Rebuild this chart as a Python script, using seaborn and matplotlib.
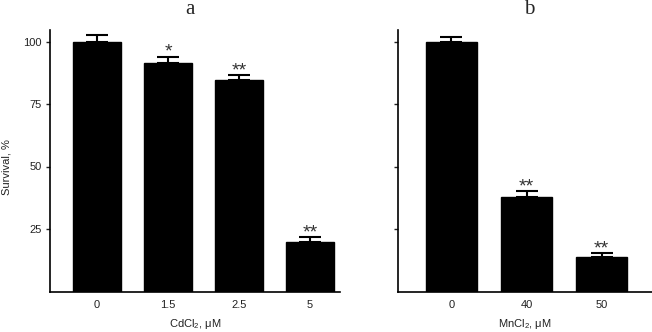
import matplotlib
matplotlib.use("Agg")
import matplotlib.pyplot as plt
import seaborn as sns
import pandas as pd

# data
cd_labels = ["0", "1.5", "2.5", "5"]
cd_values = [100, 91.5, 84.5, 20]
cd_err = [2.7, 2.4, 2.1, 1.7]
cd_marks = ["", "*", "**", "**"]

mn_labels = ["0", "40", "50"]
mn_values = [100, 38.0, 13.9]
mn_err = [2.0, 2.2, 1.5]
mn_marks = ["", "**", "**"]

y_ticks = [25, 50, 75, 100]

sns.set_theme(style="ticks")
plt.rcParams['font.family'] = ['Liberation Sans', 'DejaVu Sans']
plt.rcParams['mathtext.fontset'] = 'custom'
plt.rcParams['mathtext.rm'] = 'Liberation Sans'
plt.rcParams['mathtext.it'] = 'Liberation Sans:italic'

fig = plt.figure(figsize=(6.52, 3.32), dpi=100)
ax1 = fig.add_axes([50/652, 1-291.5/332, 290/652, 261.5/332])
ax2 = fig.add_axes([398/652, 1-291.5/332, 254/652, 261.5/332])

FS = 8

def panel(ax, labels, values, errs, marks, xlabel, xlim, show_ylabels):
    df = pd.DataFrame({"conc": labels, "val": values})
    sns.barplot(data=df, x="conc", y="val", ax=ax, color="black",
                width=0.68, saturation=1, edgecolor="black", errorbar=None)
    ax.errorbar(range(len(values)), values, yerr=[[0]*len(values), errs],
                fmt="none", ecolor="black", elinewidth=1.5, capsize=8,
                capthick=1.5)
    for i, (v, e, m) in enumerate(zip(values, errs, marks)):
        if m:
            ax.annotate(m, (i, v + e), xytext=(0, 0), textcoords="offset points",
                        ha="center", va="baseline", fontsize=14, color="#333333")
    ax.set_ylim(0, 104.6)
    ax.set_xlim(*xlim)
    ax.set_yticks(y_ticks)
    if show_ylabels:
        ax.set_yticklabels([str(t) for t in y_ticks])
        ax.set_ylabel("Survival, %", fontsize=FS, color="#222222")
        ax.yaxis.set_label_coords(-0.134, 0.476)
    else:
        ax.set_yticklabels([])
        ax.set_ylabel("")
    ax.set_xlabel(xlabel, fontsize=FS, color="#222222", labelpad=5)
    ax.tick_params(axis="y", direction="out", length=3, width=1, labelsize=FS,
                   colors="#222222", pad=3)
    ax.tick_params(axis="x", length=0, labelsize=FS, colors="#222222", pad=6)
    for s in ["top", "right"]:
        ax.spines[s].set_visible(False)
    for s in ["left", "bottom"]:
        ax.spines[s].set_linewidth(1.2)
        ax.spines[s].set_color("black")

panel(ax1, cd_labels, cd_values, cd_err, cd_marks, r"CdCl$_2$, μM", (-0.66, 3.42), True)
panel(ax2, mn_labels, mn_values, mn_err, mn_marks, r"MnCl$_2$, μM", (-0.71, 2.67), False)

fig.text(190/652, 1-9/332, "a", ha="center", va="center", fontsize=15,
         family=["Liberation Serif", "DejaVu Serif"])
fig.text(529/652, 1-9/332, "b", ha="center", va="center", fontsize=15,
         family=["Liberation Serif", "DejaVu Serif"])

fig.savefig("out.png", dpi=100)
